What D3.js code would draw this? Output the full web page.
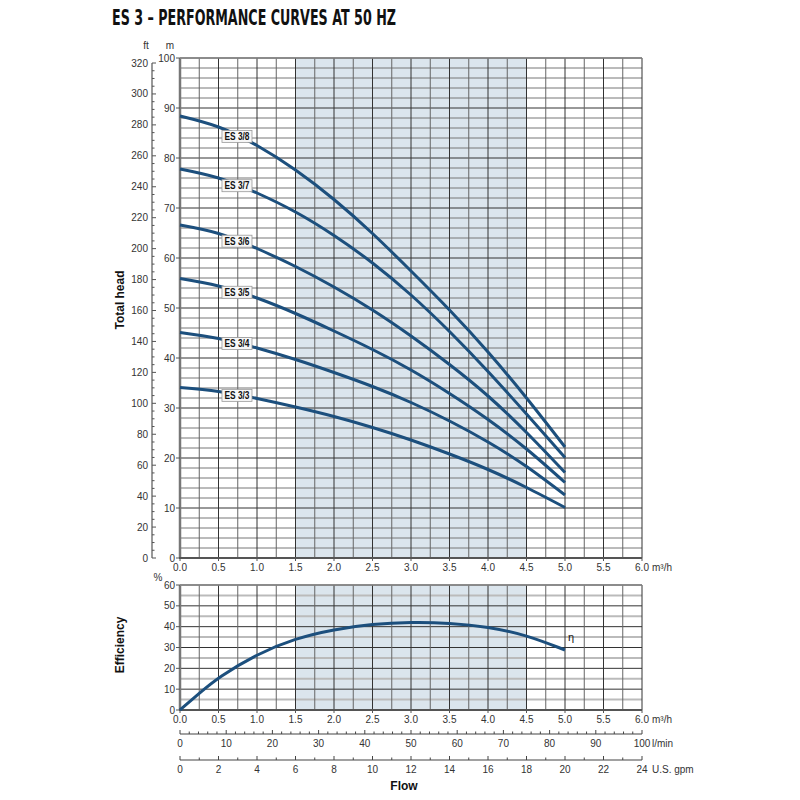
<!DOCTYPE html>
<html>
<head>
<meta charset="utf-8">
<script src="https://cdn.jsdelivr.net/npm/d3@7"></script>
<style>
  body { margin: 0; background: #fff; }
  svg { font-family: "Liberation Sans", Arial, sans-serif; }
  .tick-label { font-size: 10px; fill: #333; }
  .unit { font-size: 10px; fill: #333; }
  .axis-title { font-size: 12px; font-weight: bold; fill: #111; }
  .curve { fill: none; stroke: #1c4f7d; stroke-width: 3; }
  .curve-label { font-size: 10px; font-weight: bold; fill: #111; }
</style>
</head>
<body>
<svg width="800" height="800"></svg>
<script>
// ES 3 performance curves at 50 Hz

// Data
var flow = [0, 0.5, 1, 1.5, 2, 2.5, 3, 3.5, 4, 4.5, 5];
var es38 = [88.4, 86.2, 82.5, 77.6, 71.7, 64.9, 57.4, 49.6, 41.2, 32.0, 22.2];
var es37 = [77.8, 76.0, 73.0, 69.2, 64.5, 59.0, 52.6, 45.3, 37.3, 28.8, 20.1];
var es36 = [66.6, 64.9, 61.9, 58.3, 54.2, 49.6, 44.4, 38.7, 32.4, 25.1, 17.1];
var es35 = [55.9, 54.4, 52.0, 48.9, 45.4, 41.7, 37.6, 32.9, 27.7, 21.8, 15.1];
var es34 = [45.1, 43.9, 42.0, 39.7, 37.1, 34.3, 31.1, 27.4, 23.2, 18.3, 12.6];
var es33 = [34.1, 33.3, 31.9, 30.2, 28.3, 26.1, 23.6, 20.8, 17.7, 14.1, 10.1];
var models = ["ES 3/8", "ES 3/7", "ES 3/6", "ES 3/5", "ES 3/4", "ES 3/3"];
var heads = [es38, es37, es36, es35, es34, es33];

var effFlow = [0, 0.25, 0.5, 1, 1.5, 2, 2.5, 3, 3.5, 4, 4.5, 5];
var effValues = [0, 8.0, 15.7, 26.9, 34.4, 38.7, 41.3, 42.2, 41.8, 40.0, 36.0, 28.8];

var flowTicks = [0, 0.5, 1, 1.5, 2, 2.5, 3, 3.5, 4, 4.5, 5, 5.5, 6];
var headTicks = [0, 10, 20, 30, 40, 50, 60, 70, 80, 90, 100];
var ftTicks = [0, 20, 40, 60, 80, 100, 120, 140, 160, 180, 200, 220, 240, 260, 280, 300, 320];
var effTicks = [0, 10, 20, 30, 40, 50, 60];
var lminTicks = [0, 10, 20, 30, 40, 50, 60, 70, 80, 90, 100];
var gpmTicks = [0, 2, 4, 6, 8, 10, 12, 14, 16, 18, 20, 22, 24];
var bandRange = [1.5, 4.5];

// Layout
var left = 180, right = 642;
var headTop = 58, headBottom = 558;
var effTop = 585, effBottom = 710;
var lminY = 734, gpmY = 760;

var svg = d3.select("svg");

var x = d3.scaleLinear().domain([0, 6]).range([left, right]);
var yHead = d3.scaleLinear().domain([0, 100]).range([headBottom, headTop]);
var yFt = d3.scaleLinear().domain([0, 320]).range([headBottom, 63]);
var yEff = d3.scaleLinear().domain([0, 60]).range([effBottom, effTop]);
var xLmin = d3.scaleLinear().domain([0, 100]).range([left, right]);
var xGpm = d3.scaleLinear().domain([0, 24]).range([left, right]);

// Title
svg.append("text")
  .attr("x", 112)
  .attr("y", 25)
  .attr("textLength", 284)
  .attr("lengthAdjust", "spacingAndGlyphs")
  .style("font-family", "'DejaVu Sans', sans-serif")
  .style("font-size", "22px")
  .style("font-weight", "bold")
  .style("fill", "#111")
  .text("ES 3 \u2013 PERFORMANCE CURVES AT 50 HZ");

function drawPanel(yScale, yMax, minorStep, majorStep, lightStep) {
  var g = svg.append("g");
  g.append("rect")
    .attr("x", x(bandRange[0]))
    .attr("y", yScale(yMax))
    .attr("width", x(bandRange[1]) - x(bandRange[0]))
    .attr("height", yScale(0) - yScale(yMax))
    .style("fill", "#dbe5ed");

  // horizontal grid
  var hVals = d3.range(minorStep, yMax + 0.001, minorStep);
  g.selectAll(".hgrid")
    .data(hVals)
    .enter()
    .append("line")
    .attr("x1", x(0)).attr("x2", x(6))
    .attr("y1", function (d) { return yScale(d); })
    .attr("y2", function (d) { return yScale(d); })
    .style("stroke", function (d) {
      if (Math.abs(d % majorStep) < 0.001) return "#333";
      if (lightStep) return "#bbb";
      return "#777";
    })
    .style("stroke-width", function (d) {
      if (Math.abs(d % majorStep) < 0.001) return 1;
      return lightStep ? 2 : 1;
    });

  // vertical grid
  var vVals = d3.range(0.25, 6.001, 0.25);
  g.selectAll(".vgrid")
    .data(vVals)
    .enter()
    .append("line")
    .attr("x1", function (d) { return x(d); })
    .attr("x2", function (d) { return x(d); })
    .attr("y1", yScale(0)).attr("y2", yScale(yMax))
    .style("stroke", function (d) { return (d * 2) % 1 === 0 ? "#333" : "#666"; })
    .style("stroke-width", 1);

  // frame lines
  g.append("line")
    .attr("x1", x(0)).attr("x2", x(0))
    .attr("y1", yScale(0)).attr("y2", yScale(yMax))
    .style("stroke", "#777").style("stroke-width", 2.5);
  g.append("line")
    .attr("x1", x(0) - 1).attr("x2", x(6))
    .attr("y1", yScale(0)).attr("y2", yScale(0))
    .style("stroke", "#555").style("stroke-width", 2);
  g.append("line")
    .attr("x1", x(0)).attr("x2", x(6))
    .attr("y1", yScale(yMax)).attr("y2", yScale(yMax))
    .style("stroke", "#888").style("stroke-width", 1.5);

  // flow ticks and labels
  g.selectAll(".xtick")
    .data(flowTicks)
    .enter()
    .append("line")
    .attr("x1", function (d) { return x(d); })
    .attr("x2", function (d) { return x(d); })
    .attr("y1", yScale(0)).attr("y2", yScale(0) + 3)
    .style("stroke", "#555");
  g.selectAll(".xlabel")
    .data(flowTicks)
    .enter()
    .append("text")
    .classed("tick-label", true)
    .attr("x", function (d) { return x(d); })
    .attr("y", yScale(0) + 13)
    .attr("text-anchor", "middle")
    .text(function (d) { return d3.format(".1f")(d); });
  g.append("text")
    .classed("unit", true)
    .attr("x", x(6) + 10)
    .attr("y", yScale(0) + 13)
    .text("m\u00b3/h");
  return g;
}

// Head panel
var headPanel = drawPanel(yHead, 100, 2, 10, 0);

headPanel.selectAll(".ytick")
  .data(headTicks)
  .enter()
  .append("line")
  .attr("x1", left - 4).attr("x2", left)
  .attr("y1", function (d) { return yHead(d); })
  .attr("y2", function (d) { return yHead(d); })
  .style("stroke", "#555");
headPanel.selectAll(".ylabel")
  .data(headTicks)
  .enter()
  .append("text")
  .classed("tick-label", true)
  .attr("x", left - 5)
  .attr("y", function (d) { return yHead(d) + 3.5; })
  .attr("text-anchor", "end")
  .text(function (d) { return d; });
svg.append("text").classed("unit", true)
  .attr("x", 170).attr("y", 49).attr("text-anchor", "middle").text("m");

// ft axis
var ftX = 152;
svg.append("line")
  .attr("x1", ftX).attr("x2", ftX)
  .attr("y1", yFt(0)).attr("y2", yFt(320))
  .style("stroke", "#555").style("stroke-width", 1.2);
svg.selectAll(".ftminor")
  .data(d3.range(0, 321, 5))
  .enter()
  .append("line")
  .attr("x1", ftX).attr("x2", function (d) { return d % 20 === 0 ? ftX + 4 : ftX + 2.5; })
  .attr("y1", function (d) { return yFt(d); })
  .attr("y2", function (d) { return yFt(d); })
  .style("stroke", "#555");
svg.selectAll(".ftlabel")
  .data(ftTicks)
  .enter()
  .append("text")
  .classed("tick-label", true)
  .attr("x", ftX - 4)
  .attr("y", function (d) { return yFt(d) + 3.5; })
  .attr("text-anchor", "end")
  .text(function (d) { return d; });
svg.append("text").classed("unit", true)
  .attr("x", 146).attr("y", 49).attr("text-anchor", "middle").text("ft");

// Head curves
var line = d3.line()
  .x(function (d) { return x(d[0]); })
  .y(function (d) { return yHead(d[1]); })
  .curve(d3.curveNatural);

heads.forEach(function (h, i) {
  headPanel.append("path")
    .classed("curve", true)
    .attr("d", line(d3.zip(flow, h)));
});

// Curve labels
var labelFlow = 0.74;
heads.forEach(function (h, i) {
  var v = d3.scaleLinear().domain(flow).range(h)(labelFlow);
  var lg = headPanel.append("g")
    .attr("transform", "translate(" + [x(labelFlow), yHead(v) + 0.5] + ")");
  lg.append("rect")
    .attr("x", -15).attr("y", -6)
    .attr("width", 30).attr("height", 12)
    .style("fill", "#f7f7f7")
    .style("stroke", "#999")
    .style("stroke-width", 0.8);
  lg.append("text")
    .classed("curve-label", true)
    .attr("x", -12.5)
    .attr("y", 3.6)
    .attr("textLength", 25)
    .attr("lengthAdjust", "spacingAndGlyphs")
    .text(models[i]);
});

// Efficiency panel
var effPanel = drawPanel(yEff, 60, 5, 10, 10);

effPanel.selectAll(".ytick")
  .data(effTicks)
  .enter()
  .append("line")
  .attr("x1", left - 4).attr("x2", left)
  .attr("y1", function (d) { return yEff(d); })
  .attr("y2", function (d) { return yEff(d); })
  .style("stroke", "#555");
effPanel.selectAll(".ylabel")
  .data(effTicks)
  .enter()
  .append("text")
  .classed("tick-label", true)
  .attr("x", left - 5)
  .attr("y", function (d) { return yEff(d) + 3.5; })
  .attr("text-anchor", "end")
  .text(function (d) { return d; });
svg.append("text").classed("unit", true)
  .attr("x", 158).attr("y", 581).attr("text-anchor", "middle").text("%");

var effLine = d3.line()
  .x(function (d) { return x(d[0]); })
  .y(function (d) { return yEff(d[1]); })
  .curve(d3.curveBasis);
effPanel.append("path")
  .classed("curve", true)
  .attr("d", effLine(d3.zip(effFlow, effValues)));
effPanel.append("text")
  .attr("x", x(5) + 3)
  .attr("y", yEff(33))
  .style("font-size", "11px")
  .style("fill", "#111")
  .text("\u03b7");

// Secondary flow axes
function drawFlowAxis(scale, yPos, minorTicks, majorEvery, labels, unit) {
  var g = svg.append("g");
  g.append("line")
    .attr("x1", left).attr("x2", right)
    .attr("y1", yPos).attr("y2", yPos)
    .style("stroke", "#444").style("stroke-width", 1.2);
  g.selectAll(".tk")
    .data(minorTicks)
    .enter()
    .append("line")
    .attr("x1", function (d) { return scale(d); })
    .attr("x2", function (d) { return scale(d); })
    .attr("y1", yPos)
    .attr("y2", function (d) { return d % majorEvery === 0 ? yPos - 4 : yPos - 2.5; })
    .style("stroke", "#444");
  g.selectAll(".lb")
    .data(labels)
    .enter()
    .append("text")
    .classed("tick-label", true)
    .attr("x", function (d) { return scale(d); })
    .attr("y", yPos + 13)
    .attr("text-anchor", "middle")
    .text(function (d) { return d; });
  g.append("text")
    .classed("unit", true)
    .attr("x", right + 10)
    .attr("y", yPos + 13)
    .text(unit);
}

drawFlowAxis(xLmin, lminY, d3.range(0, 101, 2), 10, lminTicks, "l/min");
drawFlowAxis(xGpm, gpmY, d3.range(0, 25, 1), 2, gpmTicks, "U.S. gpm");

// Axis titles
svg.append("text").classed("axis-title", true)
  .attr("transform", "translate(" + [124, 300] + ") rotate(-90)")
  .attr("text-anchor", "middle")
  .text("Total head");
svg.append("text").classed("axis-title", true)
  .attr("transform", "translate(" + [124, 645] + ") rotate(-90)")
  .attr("text-anchor", "middle")
  .text("Efficiency");
svg.append("text").classed("axis-title", true)
  .attr("x", 404).attr("y", 790)
  .attr("text-anchor", "middle")
  .text("Flow");
</script>
</body>
</html>
